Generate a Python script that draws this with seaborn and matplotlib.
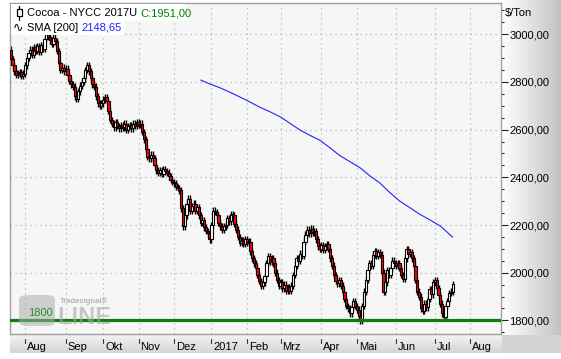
import numpy as np
import pandas as pd
import matplotlib
matplotlib.use("Agg")
import matplotlib.pyplot as plt
import matplotlib.transforms as mtransforms
from matplotlib.patches import Rectangle, FancyBboxPatch
from matplotlib.ticker import MultipleLocator
import seaborn as sns
from pandas.tseries.holiday import USFederalHolidayCalendar
from pandas.tseries.offsets import CustomBusinessDay

# ---------------- data ----------------
start_date = "2016-07-20"
first_open = 2935
closes = [
    2895, 2870, 2845, 2830, 2835, 2840, 2825, 2835,
    2870, 2900, 2920, 2935, 2915, 2945, 2930, 2950,
    2925, 2955, 2940, 2980, 3000, 2990, 2975, 2960,
    2985, 2970, 2930, 2880, 2850, 2860, 2845, 2855,
    2830, 2805, 2790, 2780, 2740, 2730, 2760, 2785,
    2800, 2815, 2850, 2870, 2845, 2815, 2790, 2780,
    2740, 2710, 2700, 2710, 2725, 2735, 2720, 2680,
    2640, 2625, 2610, 2630, 2615, 2605, 2620, 2610,
    2625, 2600, 2615, 2620, 2605, 2625, 2615, 2630,
    2620, 2625, 2590, 2560, 2520, 2485, 2480, 2495,
    2480, 2450, 2430, 2420, 2430, 2415, 2435, 2425,
    2420, 2405, 2390, 2380, 2375, 2360, 2355, 2345,
    2270, 2195, 2240, 2290, 2310, 2260, 2280, 2290,
    2260, 2275, 2240, 2210, 2220, 2190, 2175, 2165,
    2140, 2200, 2260, 2255, 2240, 2210, 2195, 2180,
    2195, 2200, 2230, 2215, 2245, 2240, 2205, 2180,
    2150, 2125, 2135, 2120, 2140, 2125, 2130, 2090,
    2060, 2040, 2020, 1990, 1965, 1945, 1960, 1985,
    2040, 2070, 2045, 2060, 2040, 2000, 1970, 1945,
    1960, 1935, 1950, 1925, 1940, 1925, 1945, 1990,
    2030, 2060, 2050, 2080, 2070, 2130, 2160, 2180,
    2165, 2185, 2170, 2175, 2140, 2110, 2100, 2115,
    2095, 2110, 2120, 2100, 2060, 2030, 1990, 1965,
    1955, 1970, 1945, 1920, 1890, 1860, 1850, 1830,
    1855, 1880, 1860, 1845, 1820, 1800, 1860, 1920,
    1970, 2010, 2040, 2030, 2075, 2090, 2070, 2085,
    2075, 2000, 1920, 1960, 2010, 1990, 2020, 2050,
    2040, 2030, 2040, 2020, 1990, 1975, 2060, 2100,
    2080, 2085, 2060, 2030, 1970, 1920, 1900, 1850,
    1840, 1870, 1855, 1890, 1930, 1910, 1960, 1970,
    1935, 1905, 1870, 1830, 1815, 1860, 1880, 1915,
    1920, 1951,
]
sma_bar = [107, 112, 118, 124, 129, 135, 140, 146, 152, 157, 163, 168, 174, 180,
           185, 191, 197, 202, 208, 213, 219, 225, 230, 236, 242, 249]
sma_vals = [2808, 2792, 2775, 2755, 2737, 2715, 2695, 2675, 2653, 2628, 2598, 2578,
            2556, 2523, 2493, 2466, 2439, 2408, 2376, 2340, 2301, 2272, 2247, 2222,
            2196, 2149]
support_level = 1800
month_labels = ["Aug", "Sep", "Okt", "Nov", "Dez", "2017", "Feb", "Mrz",
                "Apr", "Mai", "Jun", "Jul", "Aug"]
y_ticks = [1800, 2000, 2200, 2400, 2600, 2800, 3000]

# ---------------- setup ----------------
sns.set_theme(style="white")
plt.rcParams["font.family"] = ["Liberation Sans", "DejaVu Sans"]

W, H = 561, 359
fig = plt.figure(figsize=(W / 100, H / 100), dpi=100)

def fx(px):
    return px / W

def fy(py):
    return 1 - py / H

# background (white, gradient right panel and bottom band)
bg = np.ones((H, W, 3))
xs = np.arange(W)
rmask = xs >= 502
t = (xs[rmask] - 502) / (W - 502)
bg[:335, rmask, :] = (1 - 0.24 * t)[None, :, None]
ys = np.arange(335, 353)
tt = (ys - 335) / 18
bg[335:353, 10:502, :] = (0.95 - 0.12 * tt)[:, None, None]
bg[335:353, 502:, :] = 0.83
bgax = fig.add_axes([0, 0, 1, 1], zorder=-10)
bgax.imshow(bg, aspect="auto", interpolation="nearest")
bgax.axis("off")

ax = fig.add_axes([fx(10), fy(334), fx(491), 331 / H])
ax.set_facecolor("#f6f6f6")

n = len(closes)
idx = np.arange(n)
opens = np.array([first_open] + closes[:-1], dtype=float)
cl = np.array(closes, dtype=float)
wick = 14.0
hi = np.maximum(opens, cl) + wick
lo = np.minimum(opens, cl) - wick

# dates (trading days) for month ticks
cbd = CustomBusinessDay(calendar=USFederalHolidayCalendar())
dates = pd.date_range(start_date, periods=300, freq=cbd)
df_dates = pd.DataFrame({"d": dates, "i": np.arange(len(dates))})
month_first = df_dates.groupby([df_dates.d.dt.year, df_dates.d.dt.month])["i"].min().values
month_first = [m for m in month_first if m > 0][:len(month_labels)]

ax.set_xlim(-0.45, 276.2)
ax.set_ylim(1743, 3131)

# grid
for m in month_first:
    ax.axvline(m, color="#a9b9a9", lw=0.9, ls=(0, (1, 3)), zorder=0)
for v in y_ticks:
    ax.axhline(v, color="#a9b9a9", lw=0.9, ls=(0, (1, 3)), zorder=0)

# candles
body_col = np.where(cl < opens, "#ff0000", "#ffffff")
ax.vlines(idx, lo, hi, color="black", lw=1.0, zorder=2)
ax.bar(idx, np.maximum(np.abs(cl - opens), 2), bottom=np.minimum(opens, cl), width=1.3,
       color=body_col, edgecolor="black", linewidth=0.8, zorder=3)

# SMA
sns.lineplot(x=sma_bar, y=sma_vals, ax=ax, color="#2222ff", lw=0.8, zorder=4)

# support line
ax.axhline(support_level, color="#0b800b", lw=2.3, zorder=5)

# spines
for s in ax.spines.values():
    s.set_color("#a0a0a0")
    s.set_linewidth(1)

# y axis on right
ax.yaxis.tick_right()
ax.set_yticks(y_ticks)
ax.set_yticklabels([f"{v},00" for v in y_ticks])
ax.yaxis.set_minor_locator(MultipleLocator(50))
ax.tick_params(axis="y", which="major", right=True, length=5, width=0.8, pad=1,
               labelsize=8, color="#222222", labelcolor="black")
ax.tick_params(axis="y", which="minor", right=True, length=2.5, width=0.8, color="#222222")
ax.set_ylabel("")
ax.set_xlabel("")

# x axis: custom ticks and labels
ax.set_xticks([])
xt = ax.get_xaxis_transform()
xt_off = mtransforms.offset_copy(xt, fig=fig, x=2, y=0, units="dots")
for m, lab in zip(month_first, month_labels):
    ax.plot([m, m], [-5 / 331, -9 / 331], transform=xt, color="#333333", lw=0.8, clip_on=False)
    ax.text(m, -13.5 / 331, lab, transform=xt_off, ha="left", va="center", fontsize=8,
            color="black", clip_on=False)

# header legend
fig.patches.append(Rectangle((fx(11), fy(21)), fx(175), 17 / H, transform=fig.transFigure,
                             facecolor="white", edgecolor="none", zorder=5))
fig.patches.append(Rectangle((fx(11), fy(35)), fx(113), 14 / H, transform=fig.transFigure,
                             facecolor="white", edgecolor="none", zorder=5))
fig.lines.append(plt.Line2D([fx(19), fx(19)], [fy(6), fy(20)], transform=fig.transFigure,
                            color="black", lw=0.9, zorder=6))
fig.patches.append(Rectangle((fx(16.5), fy(16)), fx(5), 7 / H, transform=fig.transFigure,
                             facecolor="white", edgecolor="black", lw=0.9, zorder=6))

renderer = fig.canvas.get_renderer()

def put_parts(x0, y, parts):
    x = fx(x0)
    for txt, col in parts:
        tobj = fig.text(x, fy(y), txt, fontsize=8, color=col, ha="left", va="center", zorder=7)
        bb = tobj.get_window_extent(renderer=renderer)
        x += bb.width / W

put_parts(27, 13, [("Cocoa - NYCC 2017U ", "black"), ("C:1951,00", "#008000")])
fig.text(fx(13), fy(28), "∿", fontsize=9, color="black", ha="left", va="center",
         family=["DejaVu Sans"], zorder=7)
put_parts(27, 28, [("SMA [200] ", "black"), ("2148,65", "#2222ff")])

# unit label
fig.text(fx(505), fy(13), "$/Ton", fontsize=8, color="black", ha="left", va="center")

# watermark (logo box, brand text)
fig.patches.append(FancyBboxPatch((fx(19), fy(326)), fx(36), 31 / H,
                                  boxstyle="round,pad=0,rounding_size=0.014",
                                  transform=fig.transFigure, facecolor="#a8a8a8",
                                  edgecolor="none", alpha=0.5, zorder=6))
fig.text(fx(60), fy(301), "Tradesignal®", fontsize=5.5, weight="bold", color="#a0a0a0",
         alpha=0.75, ha="left", va="center", zorder=6)
fig.text(fx(57), fy(317), "LINE", fontsize=17, weight="bold", color="#a8a8a8",
         alpha=0.6, ha="left", va="center", zorder=6)
fig.text(fx(28), fy(313), "1800", fontsize=8, color="#2e8b2e", ha="left", va="center", zorder=7)

fig.savefig("out.png", dpi=100)
